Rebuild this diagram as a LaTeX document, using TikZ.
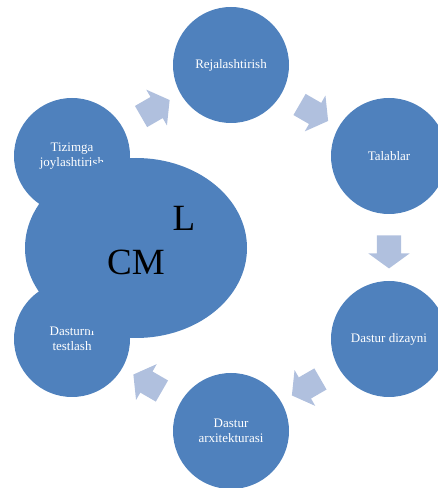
\documentclass[tikz,border=0pt]{standalone}
\usepackage{fontspec}
\setmainfont{Liberation Serif}
\usetikzlibrary{calc,shapes.geometric,shapes.arrows}
\definecolor{cycleblue}{RGB}{79,129,189}
\definecolor{cyclearrow}{RGB}{176,192,222}
\tikzset{
	stage/.style={circle, fill=cycleblue, minimum size=116pt, inner sep=0pt, text=white, align=center, font=\fontsize{13}{14.5}\selectfont},
	flow/.style={single arrow, fill=cyclearrow, minimum height=33pt, minimum width=41pt, single arrow head extend=8.5pt, single arrow tip angle=108, inner xsep=0pt, inner ysep=12pt}
}
\begin{document}
\begin{tikzpicture}[x=1pt, y=1pt]
			%%%%% START %%%%%
			\useasboundingbox (0, 0) rectangle (438, 488);
			
			\node[stage] (rej) at (231, 423) {Rejalashtirish};
			\node[stage] (tal) at (389, 332) {Talablar};
			\node[stage] (diz) at (389, 149) {Dastur dizayni};
			\node[stage] (arx) at (231, 57) {Dastur\\arxitekturasi};
			\node[stage] (tes) at (72, 149) {Dasturni\\testlash};
			\node[stage] (tiz) at (72, 332) {Tizimga\\joylashtirish};
			
			\node[flow, rotate=30] (f1) at ($(tiz)!0.5!(rej)$) {};
			\node[flow, rotate=-30] (f2) at ($(rej)!0.5!(tal)$) {};
			\node[flow, rotate=-90] (f3) at ($(tal)!0.5!(diz)$) {};
			\node[flow, rotate=210] (f4) at ($(diz)!0.5!(arx)$) {};
			\node[flow, rotate=150] (f5) at ($(arx)!0.5!(tes)$) {};
			
			\node[ellipse, fill=cycleblue, minimum width=222pt, minimum height=180pt, inner sep=0pt] (core) at (136, 240) {};
			\node[font=\fontsize{37}{40}\selectfont] (cm) at (136, 226) {CM};
			\node[font=\fontsize{37}{40}\selectfont] (l) at (184, 270) {L};
			
			%%%%% END %%%%%
\end{tikzpicture}
\end{document}
